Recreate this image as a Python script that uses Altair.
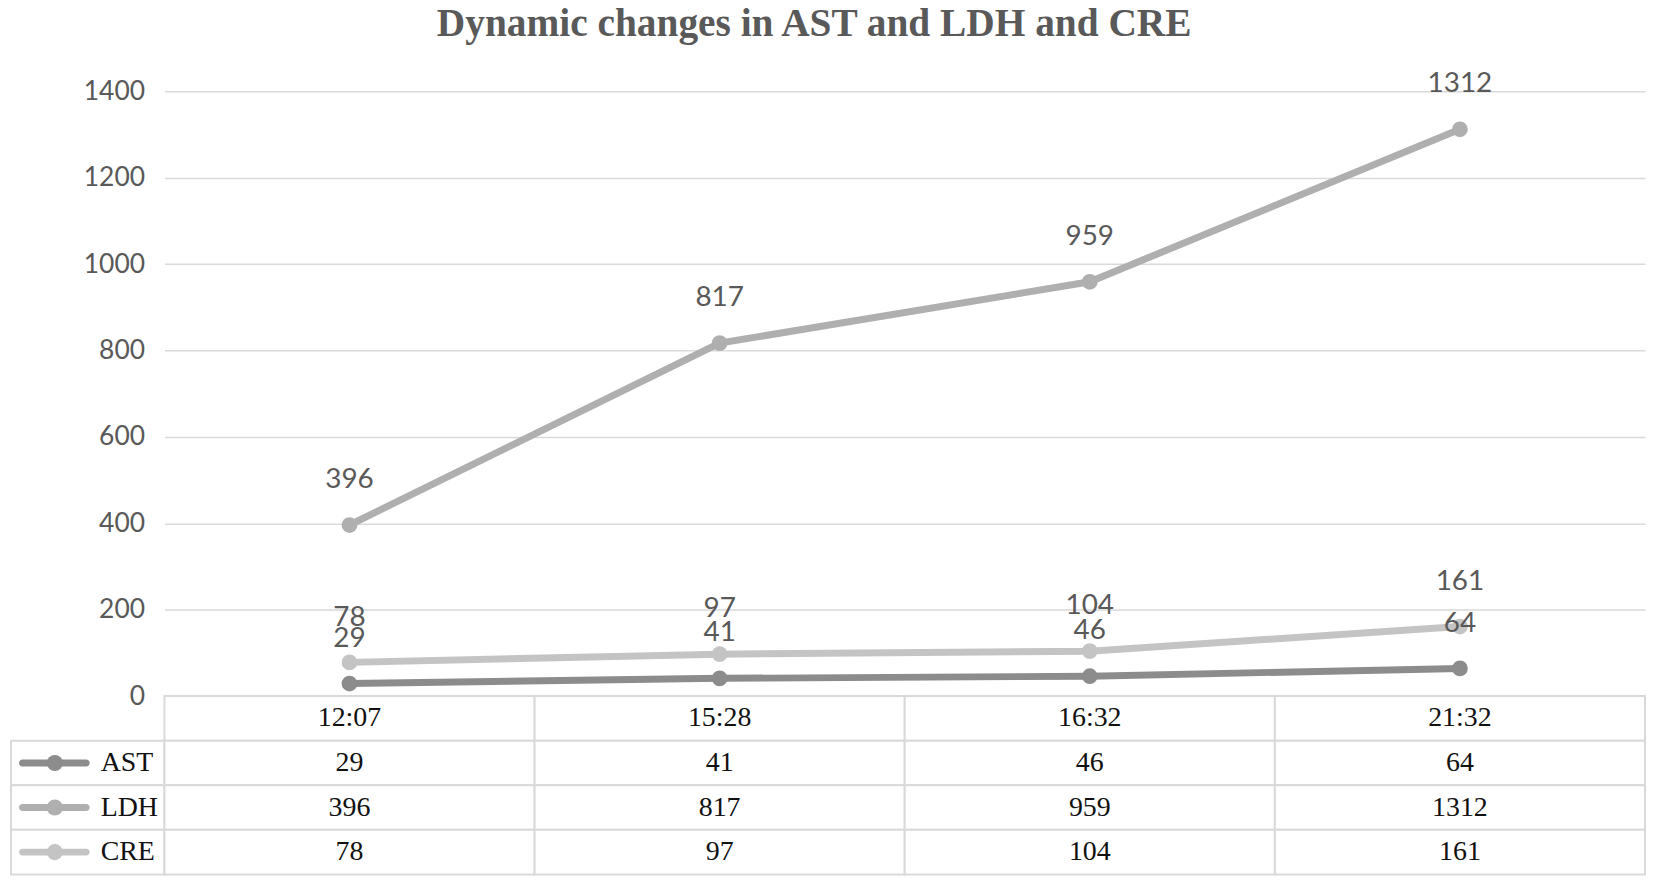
import altair as alt
import pandas as pd

times = ["12:07", "15:28", "16:32", "21:32"]
series = ["AST", "LDH", "CRE"]
ast = [29, 41, 46, 64]
ldh = [396, 817, 959, 1312]
cre = [78, 97, 104, 161]
y_ticks = [0, 200, 400, 600, 800, 1000, 1200, 1400]
colors = ["#8c8c8c", "#afafaf", "#c4c4c4"]
rows = ["time"] + series

values = {"AST": ast, "LDH": ldh, "CRE": cre}
recs = []
for s in series:
    for t, v in zip(times, values[s]):
        recs.append({"series": s, "time": t, "value": v})
df = pd.DataFrame(recs)

PLOT_W, PLOT_H = 1486, 607
LABEL_W = 154
TABLE_H = 179

grid_c = "#d9d9d9"
txt_c = "#595959"

color_enc = alt.Color("series:N", scale=alt.Scale(domain=series, range=colors), legend=None)
x_enc = alt.X("time:N", sort=times, scale=alt.Scale(type="point", padding=0.5), axis=None)
y_enc = alt.Y(
    "value:Q",
    scale=alt.Scale(domain=[0, 1400], nice=False),
    axis=alt.Axis(
        values=y_ticks, format="d", grid=True, gridColor=grid_c, gridWidth=1.5, domain=False,
        ticks=False, labelFont="Lato", labelFontSize=26.5, labelColor=txt_c, labelPadding=20,
        title=None,
    ),
)

base = alt.Chart(df).encode(x=x_enc, y=y_enc)
lines = base.mark_line(strokeWidth=7).encode(color=color_enc)
points = base.mark_circle(size=250, opacity=1).encode(color=color_enc)
labels = base.mark_text(dy=-45, font="Lato", fontSize=28, color=txt_c).encode(text="value:Q")
top = alt.layer(lines, points, labels).properties(width=PLOT_W, height=PLOT_H)

spacer = alt.Chart(pd.DataFrame({"a": [0]})).mark_point(opacity=0).encode(
    x=alt.value(0), y=alt.value(0)
).properties(width=LABEL_W, height=PLOT_H)

# table of values
trecs = []
for i, t in enumerate(times):
    trecs.append({"col": t, "row": "time", "text": t})
    for s in series:
        trecs.append({"col": t, "row": s, "text": str(values[s][i])})
tdf = pd.DataFrame(trecs)

band = alt.Scale(type="band", paddingInner=0, paddingOuter=0)
row_scale = alt.Scale(type="band", domain=rows, paddingInner=0, paddingOuter=0)

tbase = alt.Chart(tdf).encode(
    x=alt.X("col:N", sort=times, scale=band, axis=None),
    y=alt.Y("row:N", scale=row_scale, axis=None),
)
cells = tbase.mark_rect(fill="white", stroke=grid_c, strokeWidth=2)
ctext = tbase.mark_text(font="Liberation Serif", fontSize=28, color="#111111").encode(text="text:N")
table = alt.layer(cells, ctext).properties(width=PLOT_W, height=TABLE_H)

key_color = alt.Color("row:N", scale=alt.Scale(domain=series, range=colors), legend=None)
ldf = pd.DataFrame({"row": series, "k": ["key"] * len(series)})
lbase = alt.Chart(ldf).encode(
    x=alt.X("k:N", scale=band, axis=None),
    y=alt.Y("row:N", scale=row_scale, axis=None),
)
lcells = lbase.mark_rect(fill="white", stroke=grid_c, strokeWidth=2)
lticks = lbase.mark_tick(orient="horizontal", size=71, thickness=7, cornerRadius=3.5,
                         xOffset=-33.5, opacity=1).encode(color=key_color)
ldots = lbase.mark_circle(size=260, opacity=1, xOffset=-33).encode(color=key_color)
ltext = lbase.mark_text(align="left", dx=13, font="Liberation Serif", fontSize=28,
                        color="#111111").encode(text="row:N")
legend_col = alt.layer(lcells, lticks, ldots, ltext).properties(width=LABEL_W, height=TABLE_H)

chart = alt.concat(
    spacer, top, legend_col, table,
    columns=2, spacing=0, bounds="flush",
).properties(
    title=alt.Title(
        "Dynamic changes in AST and LDH and CRE",
        font="Liberation Serif", fontSize=39.5, fontWeight="bold", color=txt_c,
        anchor="middle", dx=-13, offset=26,
    ),
    padding={"top": -6, "left": 0, "right": 0, "bottom": 0},
).configure_view(strokeWidth=0)

chart.save("out.html", embed_options={"renderer": "svg", "actions": False})
